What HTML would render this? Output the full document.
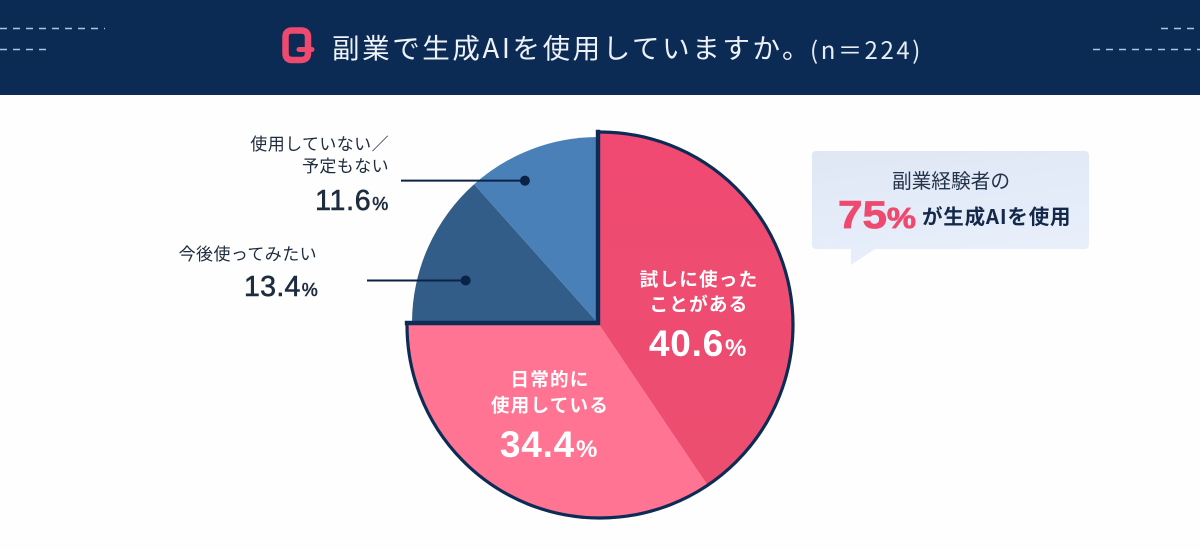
<!DOCTYPE html>
<html lang="ja">
<head>
<meta charset="utf-8">
<title>副業で生成AIを使用していますか。</title>
<style>
html,body{margin:0;padding:0;background:#fff;}
svg{display:block;}
text{font-family:"Liberation Sans","Noto Sans CJK JP",sans-serif;}
.jp{font-family:"Noto Sans CJK JP","Liberation Sans",sans-serif;}
</style>
</head>
<body>
<svg id="chart" xmlns="http://www.w3.org/2000/svg" width="1200" height="550" viewBox="0 0 1200 550">
  <defs>
    <linearGradient id="bubbleFill" x1="0" y1="0" x2="0.3" y2="1">
      <stop offset="0" stop-color="#dfe7f5"/>
      <stop offset="1" stop-color="#e8effb"/>
    </linearGradient>
    <linearGradient id="redFill" x1="0" y1="0" x2="0" y2="1">
      <stop offset="0" stop-color="#f04a72"/>
      <stop offset="1" stop-color="#eb4e6f"/>
    </linearGradient>
  </defs>
  <rect x="0" y="0" width="1200" height="550" fill="#fefefe"/>
  <rect x="0" y="0" width="1200" height="95" fill="#0b2b55"/>
  <g stroke="#a6c6e4" stroke-width="1.5" stroke-dasharray="7 6" fill="none">
    <line x1="0" y1="28.5" x2="105" y2="28.5"/>
    <line x1="0" y1="49.5" x2="50" y2="49.5"/>
    <line x1="1161" y1="28.5" x2="1200" y2="28.5"/>
    <line x1="1093" y1="49.5" x2="1200" y2="49.5"/>
  </g>
  <g fill="none" stroke="#ee4a70" stroke-linecap="round" stroke-linejoin="round">
    <path stroke-width="6.500" d="M292 30.500H301Q308 30.500 308 37V53Q308 60 301 60H292Q285.500 60 285.500 53V37Q285.500 30.500 292 30.500Z"/>
    <path stroke-width="5" d="M299 49.500H312"/>
  </g>
  <text class="jp" x="332" y="58" font-size="27.5" letter-spacing="2.6" fill="#eef2f7">副業で生成AIを使用していますか。</text>
  <text class="jp" x="810" y="59" font-size="24" font-weight="400" letter-spacing="2.6" fill="#e6ecf4">(n＝224)</text>

  <g id="pie"></g>
  <g id="labels"></g>

  <g>
    <path d="M816 151H1085a4 4 0 0 1 4 4V245a4 4 0 0 1 -4 4H875L851 265L851 249H816a4 4 0 0 1 -4 -4V155a4 4 0 0 1 4 -4Z" fill="url(#bubbleFill)"/>
    <text class="jp" x="951" y="188" font-size="19.700" text-anchor="middle" fill="#24344a">副業経験者の</text>
    <text x="838" y="228" font-size="39" font-weight="700" textLength="78" lengthAdjust="spacingAndGlyphs" fill="#ee4a70" stroke="#ee4a70" stroke-width="0.8">75<tspan font-size="29">%</tspan></text>
    <text class="jp" x="922" y="224" font-size="20.5" font-weight="700" letter-spacing="0.8" fill="#14294a">が生成AIを使用</text>
  </g>
</svg>
<script>
const categories = ['試しに使った|ことがある', '日常的に|使用している', '今後使ってみたい', '使用していない／|予定もない'];
const values = [40.6, 34.4, 13.4, 11.6];
const valueLabels = ['40.6', '34.4', '13.4', '11.6'];

const NS = 'http://www.w3.org/2000/svg';
const pieGroup = document.getElementById('pie');
const labelGroup = document.getElementById('labels');
const total = values.reduce(function (a, b) { return a + b; }, 0);
const fills = ['url(#redFill)', '#ff7393', '#325d89', '#4a80b8'];
const apex = { x: 598, y: 323 };

function angleOf(v) { return v / total * Math.PI * 2; }
function polar(c, r, a) { return { x: c.x + r * Math.sin(a), y: c.y - r * Math.cos(a) }; }

function slicePath(c, r, a0, a1) {
  const p0 = polar(c, r, a0);
  const p1 = polar(c, r, a1);
  const large = a1 - a0 > Math.PI ? 1 : 0;
  return 'M' + apex.x + ' ' + apex.y + 'L' + p0.x.toFixed(2) + ' ' + p0.y.toFixed(2) +
    'A' + r + ' ' + r + ' 0 ' + large + ' 1 ' + p1.x.toFixed(2) + ' ' + p1.y.toFixed(2) + 'Z';
}

let cum = 0;
const angles = values.map(function (v) {
  const a0 = angleOf(cum);
  cum += v;
  return [a0, angleOf(cum)];
});

// back (blue) slices
[2, 3].forEach(function (i) {
  const el = document.createElementNS(NS, 'path');
  
  
  el.setAttribute('d', slicePath(apex, 186, angles[i][0], angles[i][1]));
  el.setAttribute('fill', fills[i]);
  pieGroup.appendChild(el);
});

// front (pink) slices, on a slightly offset arc; the offset keeps the straight edges square
const outerC = { x: 600, y: 325 };
const outerR = 193;
const startA = Math.asin((apex.x - outerC.x) / outerR);
const pinkEnd = angles[1][1] + Math.asin((outerC.y - apex.y) / outerR);
[0, 1].forEach(function (i) {
  const a0 = i === 0 ? startA : angles[i][0];
  const a1 = i === 1 ? pinkEnd : angles[i][1];
  const el = document.createElementNS(NS, 'path');
  
  
  el.setAttribute('d', slicePath(outerC, outerR, a0, a1));
  el.setAttribute('fill', fills[i]);
  pieGroup.appendChild(el);
});
const arcStart = polar(outerC, outerR, startA);
const arcEnd = polar(outerC, outerR, pinkEnd);

const pinkArc = document.createElementNS(NS, 'path');


pinkArc.setAttribute('d', 'M' + arcStart.x + ' ' + arcStart.y + 'A' + outerR + ' ' + outerR + ' 0 ' + (pinkEnd - startA > Math.PI ? 1 : 0) + ' 1 ' + arcEnd.x + ' ' + arcEnd.y);
pinkArc.setAttribute('fill', 'none');
pinkArc.setAttribute('stroke', '#0c2c56');
pinkArc.setAttribute('stroke-width', '3.2');
pieGroup.appendChild(pinkArc);

const pinkEdges = document.createElementNS(NS, 'path');


pinkEdges.setAttribute('d', 'M' + arcStart.x + ' ' + arcStart.y + 'L' + apex.x + ' ' + apex.y + 'L' + arcEnd.x + ' ' + arcEnd.y);
pinkEdges.setAttribute('fill', 'none');
pinkEdges.setAttribute('stroke', '#0c2c56');
pinkEdges.setAttribute('stroke-width', '4.4');
pinkEdges.setAttribute('stroke-linecap', 'square');
pieGroup.appendChild(pinkEdges);

function addText(parent, str, x, y, size, weight, spacing, fill, anchor) {
  const t = document.createElementNS(NS, 'text');
  
  
  t.setAttribute('class', 'jp');
  t.setAttribute('x', x);
  t.setAttribute('y', y);
  t.setAttribute('font-size', size);
  t.setAttribute('font-weight', weight);
  t.setAttribute('letter-spacing', spacing);
  t.setAttribute('fill', fill);
  t.setAttribute('text-anchor', anchor);
  t.textContent = str;
  parent.appendChild(t);
  return t;
}

function addValue(parent, str, x, y, size, pctSize, weight, fill, anchor, boldness, spacing) {
  const t = document.createElementNS(NS, 'text');
  
  
  t.setAttribute('x', x);
  t.setAttribute('y', y);
  t.setAttribute('font-size', size);
  t.setAttribute('font-weight', weight);
  t.setAttribute('letter-spacing', spacing);
  t.setAttribute('fill', fill);
  t.setAttribute('stroke', fill);
  t.setAttribute('stroke-width', boldness);
  t.setAttribute('text-anchor', anchor);
  t.textContent = str;
  const pct = document.createElementNS(NS, 'tspan');
  pct.setAttribute('font-size', pctSize);
  pct.setAttribute('dx', '1');
  pct.textContent = '%';
  t.appendChild(pct);
  parent.appendChild(t);
}

// in-slice labels
let lines = categories[0].split('|');
addText(labelGroup, lines[0], 699, 286, 18.6, 700, 1.2, '#fff', 'middle');
addText(labelGroup, lines[1], 699, 311, 18.6, 700, 1.2, '#fff', 'middle');
addValue(labelGroup, valueLabels[0], 698, 356, 37, 24, 700, '#fff', 'middle', 0, 0.8);

lines = categories[1].split('|');
addText(labelGroup, lines[0], 550, 386, 18.6, 700, 1.2, '#fff', 'middle');
addText(labelGroup, lines[1], 550, 412, 18.6, 700, 1.2, '#fff', 'middle');
addValue(labelGroup, valueLabels[1], 549, 457, 37, 24, 700, '#fff', 'middle', 0, 0.8);

// outside labels
addText(labelGroup, categories[2], 317, 260, 17, 400, 0.4, '#1d2c3e', 'end');
addValue(labelGroup, valueLabels[2], 318, 296, 28.5, 18, 400, '#1d2c3e', 'end', 0.6, 0.3);

lines = categories[3].split('|');
addText(labelGroup, lines[0], 389, 150, 17, 400, 0.4, '#1d2c3e', 'end');
addText(labelGroup, lines[1], 389, 172, 17, 400, 0.4, '#1d2c3e', 'end');
addValue(labelGroup, valueLabels[3], 389, 210, 28.5, 18, 400, '#1d2c3e', 'end', 0.6, 0.7);

// leader lines with dots
function addLeader(i, radius, startX) {
  const mid = (angles[i][0] + angles[i][1]) / 2 - 0.11;
  const p = polar(apex, radius, mid);
  const line = document.createElementNS(NS, 'line');
  
  
  line.setAttribute('x1', startX);
  line.setAttribute('y1', p.y);
  line.setAttribute('x2', p.x);
  line.setAttribute('y2', p.y);
  line.setAttribute('stroke', '#0b2247');
  line.setAttribute('stroke-width', '2');
  labelGroup.appendChild(line);
  const dot = document.createElementNS(NS, 'circle');
  
  
  dot.setAttribute('cx', p.x);
  dot.setAttribute('cy', p.y);
  dot.setAttribute('r', '5');
  dot.setAttribute('fill', '#0b2247');
  labelGroup.appendChild(dot);
}
addLeader(2, 139, 367);
addLeader(3, 160, 401);
</script>
</body>
</html>
